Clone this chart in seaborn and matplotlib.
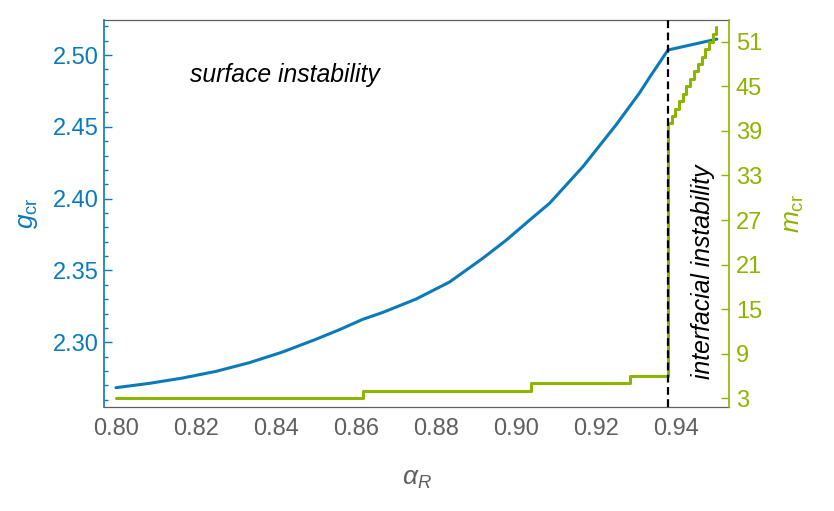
import matplotlib
matplotlib.use("Agg")
import matplotlib.pyplot as plt
import seaborn as sns
from matplotlib.ticker import MultipleLocator, FixedLocator, FormatStrFormatter

# critical g (left axis)
alpha_g = [0.800, 0.8083, 0.8166, 0.8249, 0.8332, 0.8415, 0.8498, 0.8558, 0.8617,
           0.8667, 0.8751, 0.8834, 0.8917, 0.8976, 0.9035, 0.9084, 0.9167, 0.9250,
           0.9308, 0.9335, 0.938, 0.9502]
g_cr = [2.2684, 2.2714, 2.2751, 2.2797, 2.2857, 2.2931, 2.3019, 2.3087, 2.3160,
        2.3208, 2.3302, 2.3420, 2.3585, 2.3712, 2.3853, 2.3968, 2.4222, 2.4513,
        2.4733, 2.4849, 2.5035, 2.5111]

# critical mode number (right axis), step changes
alpha_m = [0.800, 0.8617, 0.9037, 0.9285, 0.9380, 0.9389, 0.9398, 0.9408, 0.9417,
           0.9426, 0.9436, 0.9445, 0.9454, 0.9464, 0.9473, 0.9482, 0.9492, 0.9501]
m_cr = [3, 4, 5, 6, 40, 41, 42, 43, 44, 45, 46, 47, 48, 49, 50, 51, 52, 53]

alpha_split = 0.938
m_ticks = [3, 9, 15, 21, 27, 33, 39, 45, 51]

blue = "#0a7ab8"
green = "#8cb400"
gray = "#5f5f5f"

sns.set_style("white")
plt.rcParams['font.family'] = ['Liberation Sans', 'DejaVu Sans']
plt.rcParams['mathtext.fontset'] = 'custom'
plt.rcParams['mathtext.rm'] = 'Liberation Sans'
plt.rcParams['mathtext.it'] = 'Liberation Sans:italic'

fig = plt.figure(figsize=(8.34, 5.11), dpi=100)
ax = fig.add_axes([0.1247, 0.2045, 0.7494, 0.7564])
ax2 = ax.twinx()

sns.lineplot(x=alpha_g, y=g_cr, ax=ax, color=blue, linewidth=2.2,
             estimator=None, sort=False)
sns.lineplot(x=alpha_m, y=m_cr, ax=ax2, color=green, linewidth=2.2,
             estimator=None, sort=False, drawstyle='steps-post')
ax2.axvline(alpha_split, color='black', linewidth=1.6, dashes=(3.5, 2), zorder=5)

ax.set_xlim(0.797, 0.95325)
ax.set_ylim(2.2553, 2.5244)
ax2.set_ylim(1.9, 53.92)

ax.xaxis.set_major_locator(MultipleLocator(0.02))
ax.xaxis.set_minor_locator(MultipleLocator(0.005))
ax.yaxis.set_major_locator(MultipleLocator(0.05))
ax.yaxis.set_minor_locator(MultipleLocator(0.01))
ax.xaxis.set_major_formatter(FormatStrFormatter('%.2f'))
ax.yaxis.set_major_formatter(FormatStrFormatter('%.2f'))
ax2.yaxis.set_major_locator(FixedLocator(m_ticks))

ax.tick_params(axis='x', which='both', direction='in', colors=gray, labelsize=17, pad=8)
ax.tick_params(axis='x', which='major', length=5, width=0.8)
ax.tick_params(axis='x', which='minor', length=3, width=0.8)
ax.tick_params(axis='y', which='both', direction='in', colors=blue, labelsize=17, pad=4)
ax.tick_params(axis='y', which='major', length=5.5, width=1)
ax.tick_params(axis='y', which='minor', length=3, width=1)
ax2.tick_params(axis='y', which='major', direction='in', colors=green, labelsize=17,
                pad=5, length=6, width=1)

for sp in ['top', 'bottom']:
    ax.spines[sp].set_color(gray)
    ax.spines[sp].set_linewidth(0.9)
    ax2.spines[sp].set_visible(False)
ax.spines['left'].set_color(blue)
ax.spines['left'].set_linewidth(1.2)
ax2.spines['left'].set_visible(False)
ax2.spines['right'].set_color(green)
ax2.spines['right'].set_linewidth(1.2)
ax.spines['right'].set_visible(False)

ax.set_xlabel(r'$\alpha_R$', fontsize=19, color=gray, labelpad=20)
ax.set_ylabel(r'$g_{\rm cr}$', fontsize=19, color=blue, labelpad=9)
ax2.set_ylabel(r'$m_{\rm cr}$', fontsize=19, color=green, labelpad=14, rotation=90)

ax.text(0.8185, 2.486, 'surface instability', style='italic', fontsize=17.8,
        ha='left', va='center', color='black')
ax.text(0.9468, 2.3493, 'interfacial instability', style='italic', fontsize=17.8,
        ha='center', va='center', rotation=90, color='black')

fig.savefig('out.png', dpi=100)
